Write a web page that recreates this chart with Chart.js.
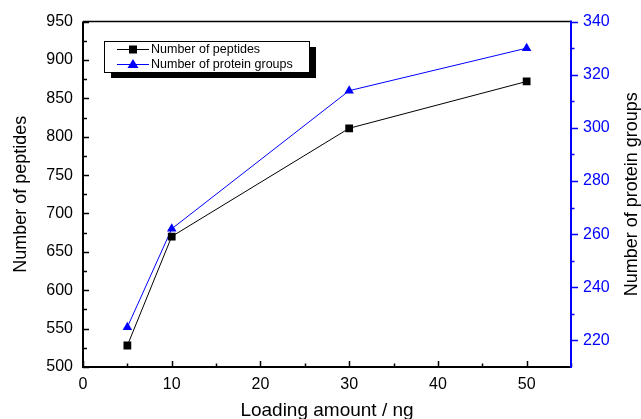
<!DOCTYPE html>
<html><head><meta charset="utf-8">
<script src="https://cdn.jsdelivr.net/npm/chart.js@4.4.0/dist/chart.umd.min.js"></script>
<style>html,body{margin:0;padding:0;background:#fff;}canvas{display:block;}</style>
</head><body>
<canvas id="c" width="641" height="419"></canvas>
<script>
// ---- data ----
const loadingAmounts = [5, 10, 30, 50];
const peptides = [528, 670, 811, 872];
const proteinGroups = [225, 262, 314, 330];
const xTicks = [0, 10, 20, 30, 40, 50];
const yLeftTicks = [500, 550, 600, 650, 700, 750, 800, 850, 900, 950];
const yRightTicks = [220, 240, 260, 280, 300, 320, 340];
const seriesNames = ['Number of peptides', 'Number of protein groups'];
const xTitle = 'Loading amount / ng';
const yLeftTitle = 'Number of peptides';
const yRightTitle = 'Number of protein groups';

const FONT = "'Liberation Sans', Arial, sans-serif";
const BLUE = '#0000ff';

function toPoints(xs, ys){ return xs.map((x,i)=>({x:x, y:ys[i]})); }

const axesPlugin = {
  id: 'customAxes',
  afterDraw(chart){
    const {ctx, chartArea:a, scales} = chart;
    const sx = scales.x, yl = scales.yL, yr = scales.yR;
    ctx.save();
    ctx.lineCap = 'butt';
    // black frame: left, bottom, top
    ctx.strokeStyle = '#000';
    ctx.lineWidth = 2;
    ctx.beginPath();
    ctx.moveTo(a.left, a.top); ctx.lineTo(a.left, a.bottom + 1);
    ctx.moveTo(a.left - 1, a.bottom); ctx.lineTo(a.right, a.bottom);
    ctx.stroke();
    ctx.lineWidth = 1.5;
    ctx.beginPath();
    ctx.moveTo(a.left, a.top); ctx.lineTo(a.right, a.top);
    ctx.stroke();
    // left ticks (inward)
    ctx.lineWidth = 1.5;
    ctx.beginPath();
    for (let v = yl.min; v <= yl.max + 1e-9; v += 25) {
      const y = Math.round(yl.getPixelForValue(v)) + 0.5;
      const len = (v % 50 === 0) ? 6 : 4;
      ctx.moveTo(a.left, y); ctx.lineTo(a.left + len, y);
    }
    // bottom ticks (inward)
    for (let v = 0; v <= sx.max + 1e-9; v += 5) {
      const x = Math.round(sx.getPixelForValue(v)) + 0.5;
      const len = (v % 10 === 0) ? 6 : 3.5;
      ctx.moveTo(x, a.bottom); ctx.lineTo(x, a.bottom - len);
    }
    ctx.stroke();
    // right axis (blue, ticks outward)
    ctx.strokeStyle = BLUE;
    ctx.lineWidth = 2;
    ctx.beginPath();
    ctx.moveTo(a.right, a.top - 1); ctx.lineTo(a.right, a.bottom + 1);
    ctx.stroke();
    ctx.lineWidth = 1.5;
    ctx.beginPath();
    for (let v = 220; v <= yr.max + 1e-9; v += 10) {
      const y = Math.round(yr.getPixelForValue(v)) + 0.5;
      const len = (v % 20 === 0) ? 7 : 3.5;
      ctx.moveTo(a.right, y); ctx.lineTo(a.right + len, y);
    }
    ctx.stroke();

    // axis titles
    ctx.fillStyle = '#000';
    ctx.textAlign = 'center';
    ctx.textBaseline = 'middle';
    ctx.font = '18px ' + FONT;
    ctx.save();
    ctx.translate(21, (a.top + a.bottom) / 2);
    ctx.rotate(-Math.PI / 2);
    ctx.fillText(yLeftTitle, 0, 0);
    ctx.restore();
    ctx.save();
    ctx.translate(632, (a.top + a.bottom) / 2);
    ctx.rotate(-Math.PI / 2);
    ctx.fillText(yRightTitle, 0, 0);
    ctx.restore();
    ctx.font = '19px ' + FONT;
    ctx.textBaseline = 'alphabetic';
    ctx.fillText(xTitle, (a.left + a.right) / 2, 416);

    // legend
    const bx = 104.5, by = 41.5, bw = 205, bh = 31;
    ctx.fillStyle = '#000';
    ctx.fillRect(bx + 6.5, by + 5.5, bw, bh);
    ctx.fillStyle = '#fff';
    ctx.fillRect(bx, by, bw, bh);
    ctx.strokeStyle = '#000';
    ctx.lineWidth = 1;
    ctx.strokeRect(bx, by, bw, bh);
    const rows = [
      {y: 49, color: '#000', style: 'rect', name: seriesNames[0]},
      {y: 64, color: BLUE, style: 'triangle', name: seriesNames[1]}
    ];
    ctx.font = '12.5px ' + FONT;
    ctx.textAlign = 'left';
    ctx.textBaseline = 'middle';
    rows.forEach(r => {
      ctx.strokeStyle = r.color;
      ctx.lineWidth = 1;
      ctx.beginPath();
      ctx.moveTo(117, r.y + 0.5); ctx.lineTo(149, r.y + 0.5);
      ctx.stroke();
      ctx.fillStyle = r.color;
      if (r.style === 'rect') {
        ctx.fillRect(129, r.y - 3.5, 8, 8);
      } else {
        ctx.beginPath();
        ctx.moveTo(133, r.y - 5);
        ctx.lineTo(138.5, r.y + 4);
        ctx.lineTo(127.5, r.y + 4);
        ctx.closePath();
        ctx.fill();
      }
      ctx.fillStyle = '#000';
      ctx.fillText(r.name, 151, r.y + 1);
    });
    ctx.restore();
  }
};

function setTicks(arr){ return function(scale){ scale.ticks = arr.map(v => ({value: v})); }; }

new Chart(document.getElementById('c'), {
  type: 'line',
  data: {
    datasets: [
      {
        label: seriesNames[0],
        data: toPoints(loadingAmounts, peptides),
        yAxisID: 'yL',
        borderColor: '#000',
        backgroundColor: '#000',
        borderWidth: 1,
        pointStyle: 'rect',
        pointRadius: 5.5,
        pointBorderWidth: 0,
        pointHoverRadius: 5.5,
        tension: 0,
        fill: false
      },
      {
        label: seriesNames[1],
        data: toPoints(loadingAmounts, proteinGroups),
        yAxisID: 'yR',
        borderColor: BLUE,
        backgroundColor: BLUE,
        borderWidth: 1,
        pointStyle: 'triangle',
        pointRadius: 5.5,
        pointBorderWidth: 0,
        pointHoverRadius: 5.5,
        tension: 0,
        fill: false
      }
    ]
  },
  options: {
    responsive: false,
    animation: false,
    events: [],
    layout: { padding: { top: 20, left: 0, right: 0, bottom: 0 } },
    plugins: { legend: { display: false }, tooltip: { enabled: false }, title: { display: false } },
    scales: {
      x: {
        type: 'linear', position: 'bottom', min: 0, max: 55,
        afterBuildTicks: setTicks(xTicks),
        afterFit(s){ s.height = 52; },
        grid: { display: false, drawTicks: false },
        border: { display: false },
        ticks: { color: '#000', padding: 8, font: { family: FONT, size: 16 } }
      },
      yL: {
        type: 'linear', position: 'left', min: 500, max: 950,
        afterBuildTicks: setTicks(yLeftTicks),
        afterFit(s){ s.width = 83; },
        grid: { display: false, drawTicks: false },
        border: { display: false },
        ticks: { color: '#000', padding: 10, font: { family: FONT, size: 16 } }
      },
      yR: {
        type: 'linear', position: 'right', min: 210, max: 340,
        afterBuildTicks: setTicks(yRightTicks),
        afterFit(s){ s.width = 70; },
        grid: { display: false, drawTicks: false },
        border: { display: false },
        ticks: { color: BLUE, padding: 12, font: { family: FONT, size: 16 } }
      }
    }
  },
  plugins: [axesPlugin]
});
</script>
</body></html>
